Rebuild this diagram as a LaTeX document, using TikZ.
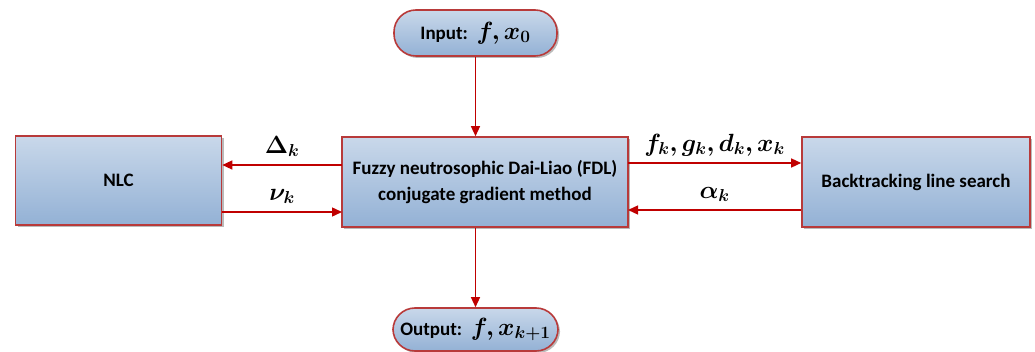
\documentclass[tikz,border=0pt]{standalone}
\usepackage{amsmath,bm}
\usepackage{fontspec}
\setmainfont{Carlito}
\usetikzlibrary{shadows,arrows.meta}
\definecolor{bordred}{HTML}{B83A3A}
\definecolor{arrred}{HTML}{C00000}
\definecolor{topblue}{HTML}{C9D8EA}
\definecolor{botblue}{HTML}{93B1D5}
\tikzset{
  box/.style={draw=bordred, line width=1.6pt, top color=topblue, bottom color=botblue,
    drop shadow={shadow xshift=2pt, shadow yshift=-2pt, fill=black!45, opacity=0.6},
    font=\fontsize{19}{26}\selectfont\bfseries, align=center, inner sep=0pt},
  term/.style={box, rounded corners=22pt},
  conn/.style={draw=arrred, line width=1.4pt, -{Triangle[length=10pt,width=9pt]}},
  lbl/.style={font=\fontsize{23}{26}\selectfont}
}
\newcommand{\termmath}[1]{{\fontsize{23}{26}\selectfont$\bm{#1}$}}
\begin{document}
\begin{tikzpicture}[x=1pt,y=-1pt]
\useasboundingbox (0,0) rectangle (1035,352);
\node[term, minimum width=163pt, minimum height=46pt] (in) at (475.5,33) {Input:\ \ \termmath{f,x_0}};
\node[box, minimum width=206pt, minimum height=89pt] (nlc) at (118.5,180.5) {NLC};
\node[box, minimum width=286pt, minimum height=90pt] (fdl) at (485,182) {Fuzzy neutrosophic Dai-Liao (FDL)\\conjugate gradient method};
\node[box, minimum width=228pt, minimum height=90pt] (bls) at (916,182) {Backtracking line search};
\node[term, minimum width=165pt, minimum height=43pt] (out) at (475.5,329.5) {Output:\ \ \termmath{f,x_{k+1}}};
\draw[conn] (in) -- (in |- fdl.north);
\draw[conn] (fdl.south -| out) -- (out);
\coordinate (a1) at (342,165);
\coordinate (a2) at (342,212);
\coordinate (b1) at (628,163);
\coordinate (b2) at (628,210);
\draw[conn] (a1) -- (a1 -| nlc.east) node[midway, above=4pt, lbl] {$\bm{\Delta_k}$};
\draw[conn] (nlc.east |- a2) -- (a2) node[midway, above=4pt, lbl] {$\bm{\nu_k}$};
\draw[conn] (b1) -- (b1 -| bls.west) node[midway, above=3pt, lbl] {$\bm{f_k,g_k,d_k,x_k}$};
\draw[conn] (bls.west |- b2) -- (b2) node[midway, above=4pt, lbl] {$\bm{\alpha_k}$};
\end{tikzpicture}
\end{document}
